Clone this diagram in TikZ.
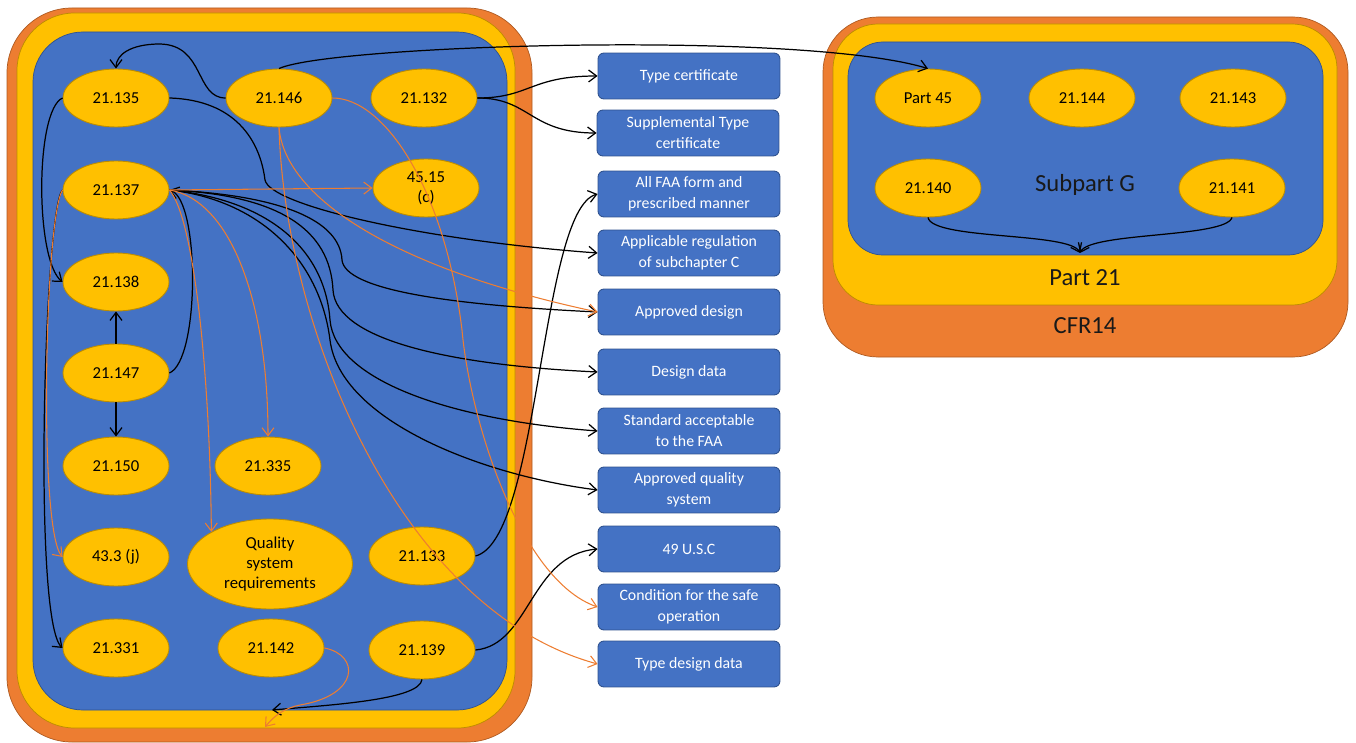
\documentclass[tikz,border=0pt]{standalone}
\usepackage{fontspec}
\setmainfont{Carlito}
\usetikzlibrary{shapes.geometric,arrows.meta}
\definecolor{cblue}{HTML}{4472C4}
\definecolor{cblueb}{HTML}{2F528F}
\definecolor{cyel}{HTML}{FFC000}
\definecolor{cyelb}{HTML}{BC8C00}
\definecolor{corg}{HTML}{ED7D31}
\definecolor{corgb}{HTML}{AE5A21}
\begin{document}
\begin{tikzpicture}[x=0.02cm,y=-0.02cm,
 ell/.style={ellipse, fill=cyel, draw=cyelb, line width=0.5pt, minimum width=2.12cm, minimum height=1.16cm, inner sep=0pt, font=\fontsize{9.5}{11.5}\selectfont, align=center},
 box/.style={rectangle, rounded corners=0.12cm, fill=cblue, draw=cblueb, line width=0.5pt, minimum width=3.64cm, minimum height=0.92cm, inner sep=1pt, text=white, font=\fontsize{9}{12}\selectfont, align=center},
 lbl/.style={font=\fontsize{14}{16}\selectfont, text=black!90},
 blk/.style={draw=black, line width=0.7pt, -{Straight Barb[length=1.6mm,width=2.4mm]}},
 org/.style={draw=corg, line width=0.6pt, -{Straight Barb[length=1.6mm,width=2.4mm]}},
]
\useasboundingbox (0,0) rectangle (1356,743);
% containers
\draw[fill=corg, draw=corgb, rounded corners=1.3cm] (7,8) rectangle (532,742);
\draw[fill=cyel, draw=cyelb, rounded corners=1.15cm] (17,13) rectangle (515,728);
\draw[fill=cblue, draw=cblueb, rounded corners=1.0cm] (33,32) rectangle (507,710);
\draw[fill=corg, draw=corgb, rounded corners=1.1cm] (823,17) rectangle (1348,357);
\draw[fill=cyel, draw=cyelb, rounded corners=0.9cm] (833,24) rectangle (1337,305);
\draw[fill=cblue, draw=cblueb, rounded corners=0.7cm] (848,42) rectangle (1323,255);
\node[lbl] (lsubg) at (1085,185) {Subpart G};
\node[lbl] (lpart) at (1085,278) {Part 21};
\node[lbl] (lcfr) at (1085,326) {CFR14};
% right ellipses
\node[ell] (np45) at (928,98) {Part 45};
\node[ell] (n144) at (1082,98) {21.144};
\node[ell] (n143) at (1233,98) {21.143};
\node[ell] (n140) at (928,188) {21.140};
\node[ell] (n141) at (1232,188) {21.141};
% left ellipses
\node[ell] (n135) at (116,98) {21.135};
\node[ell] (n146) at (279,98) {21.146};
\node[ell] (n132) at (424,98) {21.132};
\node[ell] (n137) at (116,190) {21.137};
\node[ell] (n4515) at (426,188) {45.15\\(c)};
\node[ell] (n138) at (116,282) {21.138};
\node[ell] (n147) at (116,373) {21.147};
\node[ell] (n150) at (116,466) {21.150};
\node[ell] (n335) at (268,466) {21.335};
\node[ell] (n433) at (116,557) {43.3 (j)};
\node[ell, minimum width=3.3cm, minimum height=1.8cm] (nqsr) at (270,564) {Quality\\system\\requirements};
\node[ell] (n133) at (422,556) {21.133};
\node[ell] (n331) at (116,648) {21.331};
\node[ell] (n142) at (271,648) {21.142};
\node[ell] (n139) at (422,650) {21.139};
% boxes
\node[box] (ntc) at (689,76) {Type certificate};
\node[box] (nstc) at (688,133) {Supplemental Type\\certificate};
\node[box] (nfaa) at (689,194) {All FAA form and\\prescribed manner};
\node[box] (napp) at (689,253) {Applicable regulation\\of subchapter C};
\node[box] (nappd) at (689,312) {Approved design};
\node[box] (ndd) at (689,372) {Design data};
\node[box] (nstd) at (689,431) {Standard acceptable\\to the FAA};
\node[box] (naqs) at (689,490) {Approved quality\\system};
\node[box] (n49) at (689,549) {49 U.S.C};
\node[box] (ncso) at (689,607) {Condition for the safe\\operation};
\node[box] (ntdd) at (689,664) {Type design data};
% free ends
\coordinate (e139) at (272,710);
\coordinate (e142) at (265,727);
\coordinate (jG) at (1080,253);
% black connectors
\draw[blk] (n146.west) .. controls (195,98) and (205,45) .. (160,44) .. controls (130,44) and (116,55) .. (n135.north);
\draw[blk] (n146.north) .. controls (330,45) and (800,30) .. (np45.north);
\draw[blk] (n135.east) .. controls (235,100) and (260,140) .. (265,180) .. controls (270,205) and (420,240) .. (napp.west);
\draw[blk] (n135.west) .. controls (35,110) and (35,260) .. (n138.west);
\draw[blk] (n137.west) .. controls (45,205) and (32,620) .. (n331.west);
\draw[blk] (n147.east) .. controls (200,360) and (200,200) .. (n137.east);
\draw[blk] (n147.north) -- (n138.south);
\draw[blk] (n147.south) -- (n150.north);
\draw[blk] (n137.east) .. controls (280,195) and (340,220) .. (342,260) .. controls (345,290) and (450,305) .. (nappd.west);
\draw[blk] (n137.east) .. controls (280,195) and (330,230) .. (333,290) .. controls (336,340) and (450,365) .. (ndd.west);
\draw[blk] (n137.east) .. controls (270,200) and (325,250) .. (330,320) .. controls (335,380) and (450,420) .. (nstd.west);
\draw[blk] (n137.east) .. controls (260,200) and (320,260) .. (330,340) .. controls (340,420) and (480,475) .. (naqs.west);
\draw[blk] (n132.east) .. controls (530,98) and (530,76) .. (ntc.west);
\draw[blk] (n132.east) .. controls (530,98) and (530,133) .. (nstc.west);
\draw[blk] (n133.east) .. controls (540,540) and (540,210) .. (nfaa.west);
\draw[blk] (n139.east) .. controls (530,645) and (530,555) .. (n49.west);
\draw[blk] (n139.south) .. controls (420,700) and (330,705) .. (e139);
\draw[blk] (n140.south) .. controls (932,240) and (1070,232) .. (jG);
\draw[blk] (n141.south) .. controls (1226,238) and (1090,232) .. (jG);
% orange connectors
\draw[org] (n137.east) -- (n4515.west);
\draw[org] (n137.east) .. controls (230,200) and (268,300) .. (n335.north);
\draw[org] (n137.east) .. controls (195,220) and (210,380) .. (nqsr.north west);
\draw[org] (n137.west) .. controls (45,215) and (38,530) .. (n433.west);
\draw[org] (n146.east) .. controls (385,98) and (445,190) .. (462,330) .. controls (470,420) and (520,580) .. (ncso.west);
\draw[org] (n146.south) .. controls (285,200) and (400,270) .. (nappd.west);
\draw[org] (n146.south) .. controls (285,330) and (400,610) .. (ntdd.west);
\draw[org] (n142.east) .. controls (360,655) and (360,695) .. (300,705) .. controls (285,708) and (275,715) .. (e142);
\end{tikzpicture}
\end{document}
